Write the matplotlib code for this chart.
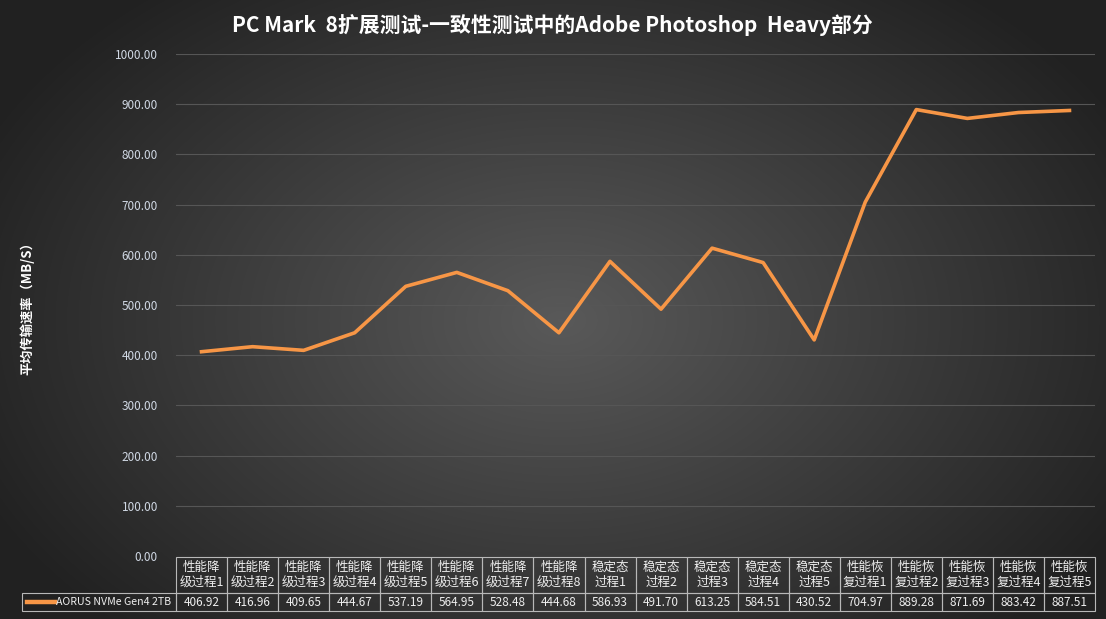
import numpy as np
import matplotlib
matplotlib.use("Agg")
import matplotlib.pyplot as plt
from matplotlib.lines import Line2D

plt.rcParams['font.family'] = ['Noto Sans CJK SC', 'DejaVu Sans']

# data
stages = ['性能降\n级过程1', '性能降\n级过程2', '性能降\n级过程3', '性能降\n级过程4',
          '性能降\n级过程5', '性能降\n级过程6', '性能降\n级过程7', '性能降\n级过程8',
          '稳定态\n过程1', '稳定态\n过程2', '稳定态\n过程3', '稳定态\n过程4', '稳定态\n过程5',
          '性能恢\n复过程1', '性能恢\n复过程2', '性能恢\n复过程3', '性能恢\n复过程4', '性能恢\n复过程5']
speeds = [406.92, 416.96, 409.65, 444.67, 537.19, 564.95, 528.48, 444.68,
          586.93, 491.70, 613.25, 584.51, 430.52,
          704.97, 889.28, 871.69, 883.42, 887.51]
series_name = 'AORUS NVMe Gen4 2TB'
y_ticks = [0, 100, 200, 300, 400, 500, 600, 700, 800, 900, 1000]

W, H = 1106, 619
fig = plt.figure(figsize=(W / 100, H / 100), dpi=100)

# radial gradient background
bg = fig.add_axes([0, 0, 1, 1], zorder=-10)
yy, xx = np.mgrid[0:H, 0:W]
r = np.sqrt(((xx - 560) / 640.0) ** 2 + ((yy - 320) / 430.0) ** 2)
r = np.clip(r, 0, 1)
shade = 0.35 - 0.22 * r
bg.imshow(np.dstack([shade, shade, shade]), aspect='auto', extent=[0, 1, 0, 1])
bg.axis('off')

# main plot area
x0, x1 = 176, 1095
ytop, ybot = 54, 556
ax = fig.add_axes([x0 / W, (H - ybot) / H, (x1 - x0) / W, (ybot - ytop) / H])
ax.set_facecolor('none')
for s in ax.spines.values():
    s.set_visible(False)

x = np.arange(len(speeds))
ax.plot(x, speeds, color='#f79646', lw=2.6, solid_joinstyle='round', zorder=3)
ax.set_xlim(-0.5, len(speeds) - 0.5)
ax.set_ylim(0, 1000)
ax.set_yticks(y_ticks)
ax.set_yticklabels(['%.2f' % v for v in y_ticks], color='#d0d8e4', fontsize=8.5)
ax.tick_params(axis='y', length=0, pad=13)
ax.set_xticks([])
ax.grid(axis='y', color='#565656', lw=0.8)

# data table
cell_text = [[''] + [s for s in stages],
             [''] + ['%.2f' % v for v in speeds]]
label_w = (x0 - 22) / 51.0
tb_left = (22 - x0) / (x1 - x0)
tb_bottom = -(611 - ybot) / (ybot - ytop)
tb_height = (611 - 557) / (ybot - ytop)
tbl = ax.table(cellText=cell_text, colWidths=[label_w] + [1] * len(speeds),
               bbox=[tb_left, tb_bottom, 1 - tb_left, tb_height], cellLoc='center')
tbl.auto_set_font_size(False)
for (row, col), cell in tbl.get_celld().items():
    cell.set_facecolor('none')
    cell.set_edgecolor('#b8b8b8')
    cell.set_linewidth(0.8)
    cell.set_height(36 if row == 0 else 18)
    cell.get_text().set_color('#eeeeee')
    cell.get_text().set_fontsize(9 if row == 0 else 8.5)
    if row == 0 and col == 0:
        cell.visible_edges = ''

# series label with legend key
fig.add_artist(Line2D([27 / W, 55 / W], [(H - 602) / H] * 2, color='#f79646', lw=3.2))
fig.text(56 / W, (H - 602) / H, series_name, ha='left', va='center',
         color='#eeeeee', fontsize=7.6)

fig.text(552 / W, 1 - 25 / H, 'PC Mark  8扩展测试-一致性测试中的Adobe Photoshop  Heavy部分',
         ha='center', va='center', color='white', fontsize=15, fontweight='bold')
fig.text(27 / W, 1 - 305 / H, '平均传输速率（MB/S）', rotation=90, ha='center', va='center',
         color='white', fontsize=9.5, fontweight='bold')

fig.savefig('out.png', dpi=100)
